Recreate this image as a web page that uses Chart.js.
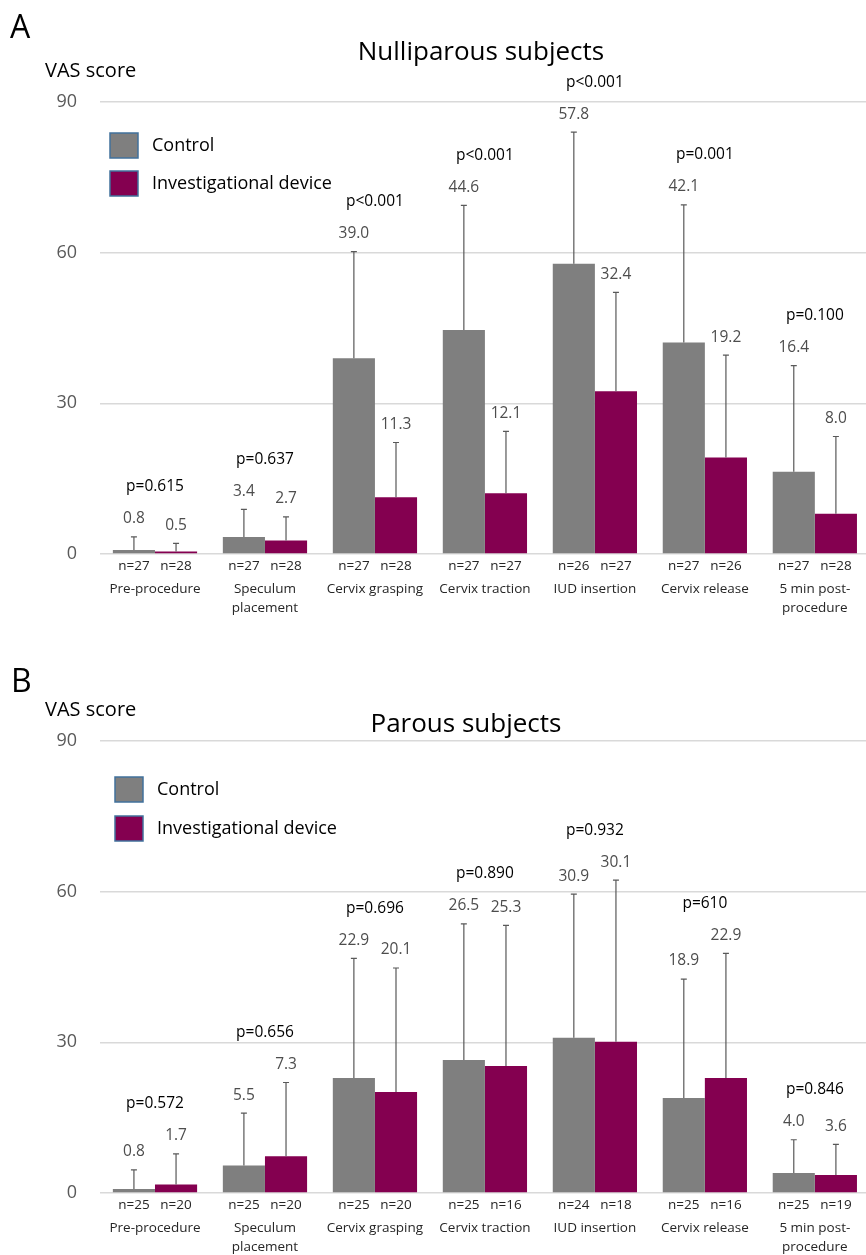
<!DOCTYPE html>
<html><head><meta charset="utf-8">
<script src="https://cdn.jsdelivr.net/npm/chart.js@4.4.1/dist/chart.umd.min.js"></script>
<style>
html,body{margin:0;padding:0;background:#fff;overflow:hidden;width:866px;height:1255px;position:relative;}
canvas{position:absolute;left:0;}
#cA{top:0}
#cB{top:625px}
</style></head><body>
<canvas id="cA" width="876" height="625"></canvas>
<canvas id="cB" width="876" height="630"></canvas>
<script>
// ---------- data ----------
const categories = [['Pre-procedure'], ['Speculum', 'placement'], ['Cervix grasping'], ['Cervix traction'], ['IUD insertion'], ['Cervix release'], ['5 min post-', 'procedure']];
const seriesNames = ['Control', 'Investigational device'];
const yTicks = [0, 30, 60, 90];

const nulliTitle = 'Nulliparous subjects';
const nulliControl = [0.8, 3.4, 39.0, 44.6, 57.8, 42.1, 16.4];
const nulliDevice  = [0.5, 2.7, 11.3, 12.1, 32.4, 19.2, 8.0];
const nulliControlSD = [2.6, 5.5, 21.2, 24.8, 26.2, 27.4, 21.1];
const nulliDeviceSD  = [1.6, 4.7, 10.9, 12.3, 19.7, 20.4, 15.4];
const nulliControlN = [27, 27, 27, 27, 26, 27, 27];
const nulliDeviceN  = [28, 28, 28, 27, 27, 26, 28];
const nulliP = ['p=0.615', 'p=0.637', 'p<0.001', 'p<0.001', 'p<0.001', 'p=0.001', 'p=0.100'];

const parousTitle = 'Parous subjects';
const parousControl = [0.8, 5.5, 22.9, 26.5, 30.9, 18.9, 4.0];
const parousDevice  = [1.7, 7.3, 20.1, 25.3, 30.1, 22.9, 3.6];
const parousControlSD = [3.8, 10.4, 23.8, 27.1, 28.6, 23.7, 6.6];
const parousDeviceSD  = [6.1, 14.7, 24.7, 28.0, 32.2, 24.8, 6.1];
const parousControlN = [25, 25, 25, 25, 24, 25, 25];
const parousDeviceN  = [20, 20, 20, 16, 18, 16, 19];
const parousP = ['p=0.572', 'p=0.656', 'p=0.696', 'p=0.890', 'p=0.932', 'p=610', 'p=0.846'];

// ---------- style ----------
const F = "'Open Sans', sans-serif";
Chart.defaults.font.family = F;
const COLORS = ['#7f7f7f', '#840050'];

function overlay(p) {
  return {
    id: 'overlay' + p.letter,
    afterDatasetsDraw(chart) {
      const c = chart.ctx, ys = chart.scales.y;
      const tops = [[], []];
      c.save();
      chart.data.datasets.forEach((ds, di) => {
        const meta = chart.getDatasetMeta(di);
        ds.data.forEach((v, i) => {
          const x = meta.data[i].x;
          const yb = ys.getPixelForValue(v);
          const yt = ys.getPixelForValue(v + ds.sd[i]);
          tops[di][i] = yt;
          c.strokeStyle = '#595959';
          c.lineWidth = 1.2;
          c.beginPath();
          c.moveTo(x, yb); c.lineTo(x, yt);
          c.moveTo(x - 3, yt); c.lineTo(x + 3, yt);
          c.stroke();
          c.fillStyle = '#4d4d4d';
          c.font = '15.5px ' + F;
          c.textAlign = 'center';
          c.textBaseline = 'middle';
          c.fillText(v.toFixed(1), x, yt - 18);
          c.fillStyle = '#262626';
          c.font = '13.5px ' + F;
          c.fillText('n=' + ds.n[i], x, ys.bottom + 12);
        });
      });
      const m0 = chart.getDatasetMeta(0), m1 = chart.getDatasetMeta(1);
      p.pvals.forEach((t, i) => {
        const x = (m0.data[i].x + m1.data[i].x) / 2;
        const top = Math.min(tops[0][i], tops[1][i]);
        c.fillStyle = '#000';
        c.font = '15.5px ' + F;
        c.textAlign = 'center';
        c.textBaseline = 'middle';
        c.fillText(t, x, top - 50);
      });
      c.restore();
    },
    afterDraw(chart) {
      const c = chart.ctx;
      c.save();
      c.fillStyle = '#000';
      c.textBaseline = 'alphabetic';
      c.textAlign = 'left';
      c.font = '32px ' + F;
      c.fillText(p.letter, p.letterPos[0], p.letterPos[1]);
      c.font = '20px ' + F;
      c.fillText('VAS score', p.vasPos[0], p.vasPos[1]);
      c.textAlign = 'center';
      c.font = '26px ' + F;
      c.fillText(p.title, p.titlePos[0], p.titlePos[1]);
      // legend
      chart.data.datasets.forEach((ds, di) => {
        const y = p.legendY[di];
        c.fillStyle = ds.backgroundColor;
        c.fillRect(p.legendX, y, 28, 25);
        c.strokeStyle = '#41719c';
        c.lineWidth = 1.5;
        c.strokeRect(p.legendX, y, 28, 25);
        c.fillStyle = '#000';
        c.font = '18px ' + F;
        c.textAlign = 'left';
        c.textBaseline = 'middle';
        c.fillText(ds.label, p.legendX + 42, y + 12.5);
      });
      c.restore();
    }
  };
}

function build(id, p) {
  new Chart(document.getElementById(id), {
    type: 'bar',
    data: {
      labels: categories,
      datasets: [
        { label: seriesNames[0], data: p.control, backgroundColor: COLORS[0], sd: p.controlSD, n: p.controlN, categoryPercentage: 0.766, barPercentage: 1 },
        { label: seriesNames[1], data: p.device, backgroundColor: COLORS[1], sd: p.deviceSD, n: p.deviceN, categoryPercentage: 0.766, barPercentage: 1 }
      ]
    },
    options: {
      responsive: false, animation: false, devicePixelRatio: 1,
      layout: { padding: { top: p.top, right: 3, left: 0, bottom: 0 } },
      plugins: { legend: { display: false }, tooltip: { enabled: false }, title: { display: false } },
      scales: {
        x: {
          grid: { display: false, drawTicks: false }, border: { display: false },
          ticks: { font: { family: F, size: 13.5, lineHeight: 1.4 }, color: '#262626', padding: 25.5, maxRotation: 0, autoSkip: false },
          afterFit(s) { s.height = p.xh; }
        },
        y: {
          min: 0, max: 90,
          afterBuildTicks(s) { s.ticks = yTicks.map(v => ({ value: v })); },
          grid: { color: '#d9d9d9', lineWidth: 1.5, drawTicks: false }, border: { display: false },
          ticks: { font: { family: F, size: 18 }, color: '#595959', padding: 23 },
          afterFit(s) { s.width = 100; }
        }
      }
    },
    plugins: [overlay(p)]
  });
}

build('cA', {
  letter: 'A', title: nulliTitle,
  control: nulliControl, device: nulliDevice, controlSD: nulliControlSD, deviceSD: nulliDeviceSD,
  controlN: nulliControlN, deviceN: nulliDeviceN, pvals: nulliP,
  top: 102, xh: 71,
  letterPos: [10, 38], vasPos: [45, 77], titlePos: [481, 60],
  legendX: 110, legendY: [133, 171]
});
build('cB', {
  letter: 'B', title: parousTitle,
  control: parousControl, device: parousDevice, controlSD: parousControlSD, deviceSD: parousDeviceSD,
  controlN: parousControlN, deviceN: parousDeviceN, pvals: parousP,
  top: 116, xh: 62,
  letterPos: [11, 67], vasPos: [45, 91], titlePos: [466, 107],
  legendX: 115, legendY: [152, 191]
});
</script>
</body></html>
